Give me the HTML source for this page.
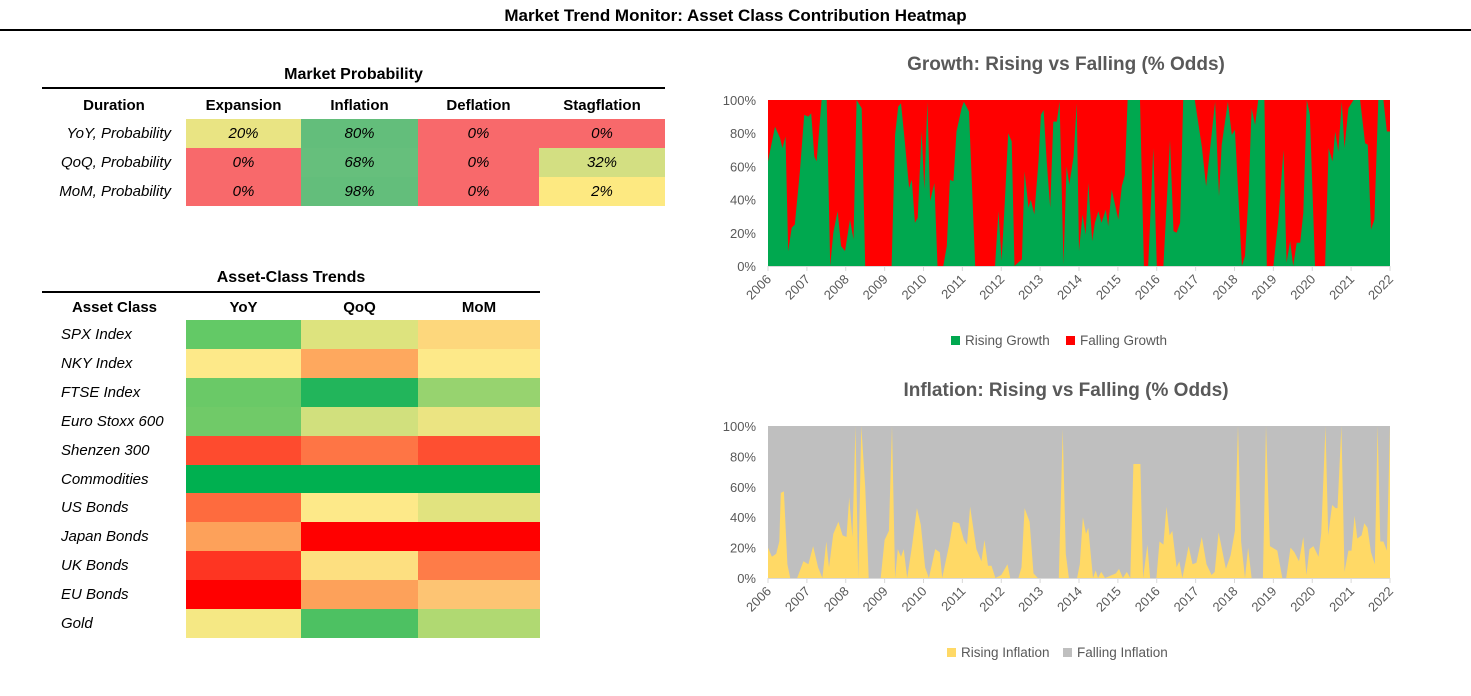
<!DOCTYPE html>
<html><head><meta charset="utf-8"><style>
body{margin:0;width:1471px;height:696px;background:#fff;position:relative;overflow:hidden;font-family:"Liberation Sans",sans-serif;}
.abs{position:absolute;}
.t{font-weight:bold;color:#000;}
.cell{position:absolute;display:flex;align-items:center;justify-content:center;font-style:italic;font-size:15px;}
.lbl{position:absolute;font-style:italic;font-size:15px;}
.hdr{position:absolute;font-weight:bold;font-size:15px;text-align:center;}
</style></head><body>
<div class="abs t" style="left:0;width:1471px;top:6px;text-align:center;font-size:17px;">Market Trend Monitor: Asset Class Contribution Heatmap</div>
<div class="abs" style="left:0;width:1471px;top:29px;height:2px;background:#000"></div>

<div id="prob">
<div class="abs t" style="left:42px;width:623px;top:66px;text-align:center;font-size:16px;">Market Probability</div>
<div class="abs" style="left:42px;width:623px;top:87px;height:2px;background:#000"></div>
</div>
<div id="asset">
<div class="abs t" style="left:42px;width:498px;top:269px;text-align:center;font-size:16px;">Asset-Class Trends</div>
<div class="abs" style="left:42px;width:498px;top:291px;height:2px;background:#000"></div>
</div>

<svg id="charts" class="abs" style="left:0;top:0" width="1471" height="696"></svg>

<script>
// ---- Market probability table ----
const probCols=["Expansion","Inflation","Deflation","Stagflation"];
const probRows=["YoY, Probability","QoQ, Probability","MoM, Probability"];
const probVals=[[20,80,0,0],[0,68,0,32],[0,98,0,2]];
const probColors=[["#e9e483","#63be7b","#f8696b","#f8696b"],["#f8696b","#66bf7c","#f8696b","#d3df82"],["#f8696b","#63be7b","#f8696b","#fde981"]];
// ---- Asset table ----
const assetCols=["YoY","QoQ","MoM"];
const assetRows=["SPX Index","NKY Index","FTSE Index","Euro Stoxx 600","Shenzen 300","Commodities","US Bonds","Japan Bonds","UK Bonds","EU Bonds","Gold"];
const assetColors=[
["#63c966","#dde37e","#fdd77c"],["#fde989","#fea85e","#fde989"],["#6ac967","#22b55b","#97d36f"],["#70ca68","#d1e07d","#ebe482"],
["#fe4b2e","#fe7545","#fe4f31"],["#00b050","#00b050","#00b050"],["#fe6b3e","#fde989","#e1e37f"],["#fda15a","#ff0000","#ff0000"],
["#fe3522","#fddf80","#fe7c48"],["#ff0000","#fda15a","#fdc473"],["#f5e884","#4dc162","#b0d972"]];

(function(){
 const p=document.getElementById('prob');
 const xs=[186,301,418,539,665], ys=[119,148,177,206];
 let h=document.createElement('div');h.className='hdr';h.style.cssText='left:42px;width:144px;top:97px';h.textContent='Duration';
 
 p.appendChild(h);
 probCols.forEach((c,i)=>{const d=document.createElement('div');d.className='hdr';
  d.style.cssText=`left:${xs[i]}px;width:${xs[i+1]-xs[i]}px;top:97px`;d.textContent=c;
  
  p.appendChild(d);});
 probRows.forEach((r,j)=>{const l=document.createElement('div');l.className='lbl';
  l.style.cssText=`left:42px;width:129px;text-align:right;top:${ys[j]+6}px`;l.textContent=r;
  
  p.appendChild(l);
  probVals[j].forEach((v,i)=>{const c=document.createElement('div');c.className='cell';
   c.style.cssText=`left:${xs[i]}px;width:${xs[i+1]-xs[i]}px;top:${ys[j]}px;height:${ys[j+1]-ys[j]}px;background:${probColors[j][i]}`;
   c.textContent=v+'%';
   
   p.appendChild(c);});});
 const a=document.getElementById('asset');
 const ax=[186,301,418,540], y0=320, rh=(638-320)/11;
 let ah=document.createElement('div');ah.className='hdr';ah.style.cssText='left:42px;width:145px;top:299px';ah.textContent='Asset Class';
 
 a.appendChild(ah);
 assetCols.forEach((c,i)=>{const d=document.createElement('div');d.className='hdr';
  d.style.cssText=`left:${ax[i]}px;width:${ax[i+1]-ax[i]}px;top:299px`;d.textContent=c;
  
  a.appendChild(d);});
 assetRows.forEach((r,j)=>{const l=document.createElement('div');l.className='lbl';
  l.style.cssText=`left:61px;top:${y0+j*rh+6}px`;l.textContent=r;
  
  a.appendChild(l);
  assetColors[j].forEach((col,i)=>{const c=document.createElement('div');c.className='cell';
   c.style.cssText=`left:${ax[i]}px;width:${ax[i+1]-ax[i]}px;top:${y0+j*rh}px;height:${rh+0.5}px;background:${col}`;
   
   a.appendChild(c);});});
})();

// ---- Chart data (t = years since 2006, v = rising fraction) ----
const growthT=[0,.18,.31,.37,.45,.52,.61,.69,.82,.93,1.04,1.11,1.19,1.25,1.38,1.51,1.6,1.68,1.79,1.88,1.98,2.11,2.2,2.28,2.41,2.5,3.18,3.27,3.35,3.42,3.52,3.63,3.7,3.78,3.85,3.95,4.02,4.1,4.17,4.28,4.36,4.51,4.6,4.68,4.77,4.85,4.98,5.04,5.17,5.33,5.84,5.93,6.01,6.1,6.18,6.27,6.34,6.48,6.53,6.6,6.7,6.76,6.85,6.96,7.02,7.09,7.17,7.26,7.34,7.43,7.5,7.6,7.68,7.75,7.86,7.94,8.0,8.09,8.17,8.24,8.34,8.41,8.5,8.58,8.69,8.75,8.84,9.01,9.1,9.18,9.25,9.57,9.67,9.78,9.91,10.0,10.17,10.34,10.43,10.51,10.6,10.68,10.98,11.16,11.27,11.5,11.6,11.67,11.83,11.93,12.01,12.1,12.19,12.27,12.36,12.44,12.53,12.61,12.77,12.83,13.0,13.13,13.26,13.34,13.43,13.51,13.6,13.69,13.77,13.86,13.94,14.07,14.33,14.42,14.52,14.59,14.67,14.76,14.83,14.93,15.06,15.23,15.36,15.43,15.51,15.6,15.7,15.83,15.92,16.0];
const growthV=[.63,.84,.77,.71,.78,.09,.23,.25,.57,.91,.9,.92,.66,.63,1,1,0,.2,.33,.12,.09,.28,.16,1,.95,0,0,.79,.96,.98,.75,.47,.52,.26,.29,.81,.46,.99,.39,.5,0,0,.12,.52,.51,.81,.95,.99,.93,0,0,.33,.03,.42,.8,.75,0,.03,.04,.57,.35,.4,.31,.64,.91,.94,.63,.35,.87,.87,.99,.01,.6,.49,.66,.98,.09,.31,.19,.5,.15,.26,.33,.26,.34,.24,.46,.28,.48,.55,1,1,0,0,.71,0,0,.76,.21,.2,.26,1,1,.72,.48,.99,.42,.73,.99,.79,.82,.42,0,.06,.42,.95,.85,1,1,0,0,.28,.7,.02,.15,0,.14,.14,.32,1,.91,0,0,.71,.63,.81,.69,.99,.71,.95,1,1,.74,.73,.22,.28,1,1,.81,.81];
const inflT=[0,.1,.21,.29,.33,.41,.5,.57,.75,.91,1.04,1.16,1.29,1.4,1.5,1.57,1.68,1.81,1.92,2.02,2.09,2.17,2.25,2.32,2.4,2.5,2.59,2.9,3.0,3.11,3.19,3.27,3.34,3.42,3.49,3.58,3.71,3.83,3.93,4.04,4.14,4.3,4.42,4.48,4.66,4.76,4.92,5.04,5.12,5.2,5.36,5.49,5.57,5.66,5.75,5.85,6.0,6.16,6.23,6.44,6.52,6.6,6.73,6.83,6.94,7.48,7.58,7.66,7.74,7.95,8.02,8.1,8.18,8.24,8.3,8.36,8.43,8.49,8.57,8.67,8.95,9.03,9.13,9.23,9.32,9.4,9.58,9.65,9.76,9.83,9.99,10.07,10.17,10.25,10.33,10.4,10.51,10.58,10.66,10.82,10.92,11.02,11.16,11.28,11.41,11.49,11.59,11.78,11.9,12.01,12.09,12.17,12.27,12.35,12.44,12.73,12.81,12.91,13.1,13.23,13.33,13.44,13.54,13.66,13.77,13.85,13.93,14.03,14.16,14.23,14.34,14.41,14.51,14.6,14.65,14.75,14.83,14.93,15.01,15.09,15.16,15.27,15.34,15.42,15.51,15.61,15.68,15.75,15.83,15.92,16.0];
const inflV=[.2,.14,.16,.24,.56,.57,.09,0,0,.11,.09,.21,.07,0,.24,.07,.29,.37,.28,.27,.53,.27,1,0,1,.6,0,0,.25,.31,1,0,.19,.14,.19,0,.22,.46,.35,.07,0,.19,.17,0,.22,.37,.36,.25,.22,.47,.19,.11,.25,.08,.08,0,.02,.09,0,0,.07,.46,.37,.03,0,0,.98,.16,0,0,.09,.4,.29,.33,.16,0,.05,0,.04,0,.03,.06,0,.04,0,.75,.75,0,.22,0,0,.24,.22,.47,.28,.31,.07,.11,0,.21,.09,.1,.27,.09,.02,.04,.3,.06,.15,.31,1,.24,0,.2,0,0,1,.21,.18,0,0,.2,.17,.11,.27,.02,.19,.21,.14,.29,1,.28,.48,.46,.46,1,.04,.18,.18,.41,.26,.28,.36,.33,.17,.09,1,.24,.24,.18,1];
const yTicks=[0,20,40,60,80,100];
const xYears=[2006,2007,2008,2009,2010,2011,2012,2013,2014,2015,2016,2017,2018,2019,2020,2021,2022];

const NS='http://www.w3.org/2000/svg';
const svg=document.getElementById('charts');
function el(tag,attrs,parent,text){const e=document.createElementNS(NS,tag);for(const k in attrs)e.setAttribute(k,attrs[k]);if(text!==undefined)e.textContent=text;(parent||svg).appendChild(e);return e;}
function drawChart(cfg){
 const g=el('g',{});
 
 
 const L=768,R=1390,T=cfg.top,B=cfg.bottom;
 const xS=t=>L+(t/16)*(R-L), yS=v=>B-v*(B-T);
 const bg=el('rect',{x:L,y:T,width:R-L,height:B-T,fill:cfg.fall},g);
 
 
 let d=`M${xS(cfg.t[0])},${B}`;cfg.t.forEach((t,i)=>{d+=` L${xS(t).toFixed(1)},${yS(cfg.v[i]).toFixed(1)}`;});
 d+=` L${xS(cfg.t[cfg.t.length-1])},${B} Z`;
 const ar=el('path',{d:d,fill:cfg.rise},g);
 
 
 el('line',{x1:L,x2:R,y1:B+0.5,y2:B+0.5,stroke:'#d9d9d9'},g);
 yTicks.forEach(v=>{const tx=el('text',{x:L-12,y:yS(v/100)+5,'text-anchor':'end','font-size':13,fill:'#595959','font-family':'Liberation Sans, sans-serif'},g,v+'%');
  
  });
 xYears.forEach(y=>{const x=xS(y-2006);
  el('line',{x1:x,x2:x,y1:B,y2:B+5,stroke:'#d9d9d9'},g);
  const tx=el('text',{x:x+4,y:B+14,'text-anchor':'end','font-size':13,fill:'#595959','font-family':'Liberation Sans, sans-serif',transform:`rotate(-45 ${x+4} ${B+14})`},g,y);
  
  });
 const ti=el('text',{x:1066,y:cfg.titleY,'text-anchor':'middle','font-size':19,'font-weight':'bold',fill:'#595959','font-family':'Liberation Sans, sans-serif'},g,cfg.title);
 
 
 cfg.legend.forEach(l=>{const lg=el('g',{},g);
  
  
  el('rect',{x:l.x,y:cfg.legY-5,width:9,height:9,fill:l.c},lg);
  el('text',{x:l.x+14,y:cfg.legY+4,'font-size':13.5,fill:'#595959','font-family':'Liberation Sans, sans-serif'},lg,l.s);});
}
drawChart({name:'growth-chart',top:100,bottom:266,titleY:70,title:'Growth: Rising vs Falling (% Odds)',t:growthT,v:growthV,rise:'#00a84f',fall:'#ff0000',legY:341,
 legend:[{x:951,c:'#00a84f',s:'Rising Growth'},{x:1066,c:'#ff0000',s:'Falling Growth'}]});
drawChart({name:'inflation-chart',top:426,bottom:578,titleY:396,title:'Inflation: Rising vs Falling  (% Odds)',t:inflT,v:inflV,rise:'#ffd966',fall:'#bfbfbf',legY:653,
 legend:[{x:947,c:'#ffd966',s:'Rising Inflation'},{x:1063,c:'#bfbfbf',s:'Falling Inflation'}]});
</script>
</body></html>
